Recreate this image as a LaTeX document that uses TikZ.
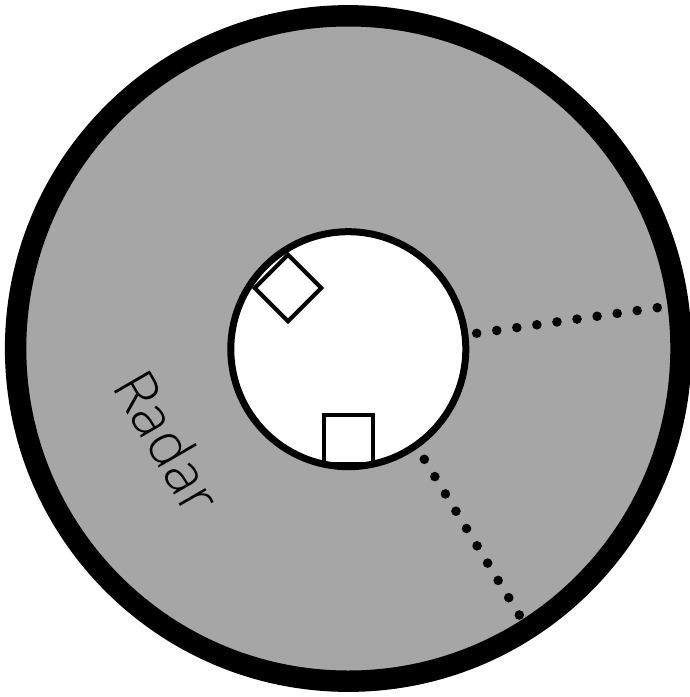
\documentclass[tikz,border=0pt]{standalone}
\usepackage{fontspec}
\newfontfamily\radarfont{Open Sans Light}
\usetikzlibrary{calc}
\definecolor{ringgray}{RGB}{166,166,166}
\tikzset{
  outerring/.style={line width=21.4pt, draw=black, fill=ringgray},
  innerring/.style={line width=7pt, draw=black},
  antenna/.style={line width=4pt, draw=black, fill=white},
  dotmark/.style={fill=black},
}
\begin{document}
\begin{tikzpicture}[x=1pt,y=-1pt]
  \useasboundingbox (0,0) rectangle (690,697);
  \coordinate (c) at (348.3,348.5);
  \coordinate (ic) at (348.3,349.2);
  % outer disc
  \path[outerring] (c) circle (332.7);
  % dotted lines
  \coordinate (a1) at (476.7,333.3);
  \coordinate (b1) at (657.3,307.7);
  \coordinate (a2) at (424.3,459.3);
  \coordinate (b2) at (519.3,615.0);
  \foreach \i in {0,...,9} {
    \fill[dotmark] ($(a1)!\i/9!(b1)$) circle (4.8);
    \fill[dotmark] ($(a2)!\i/9!(b2)$) circle (4.8);
  }
  % inner hole
  \fill[white] (ic) circle (117.5);
  % antennas
  \path[antenna] (348.8,439.8) ++(-24.5,-24.5) rectangle ++(49,49);
  \path[antenna, rotate around={45:(288,288)}] (288,288) ++(-23.5,-23.5) rectangle ++(47,47);
  % inner ring stroke
  \draw[innerring] (ic) circle (117.5);
  % label
  \node[rotate=-60, inner sep=0pt, font=\radarfont\fontsize{58}{62}\selectfont] (radar) at (168.5,441.5) {Radar};
\end{tikzpicture}
\end{document}
